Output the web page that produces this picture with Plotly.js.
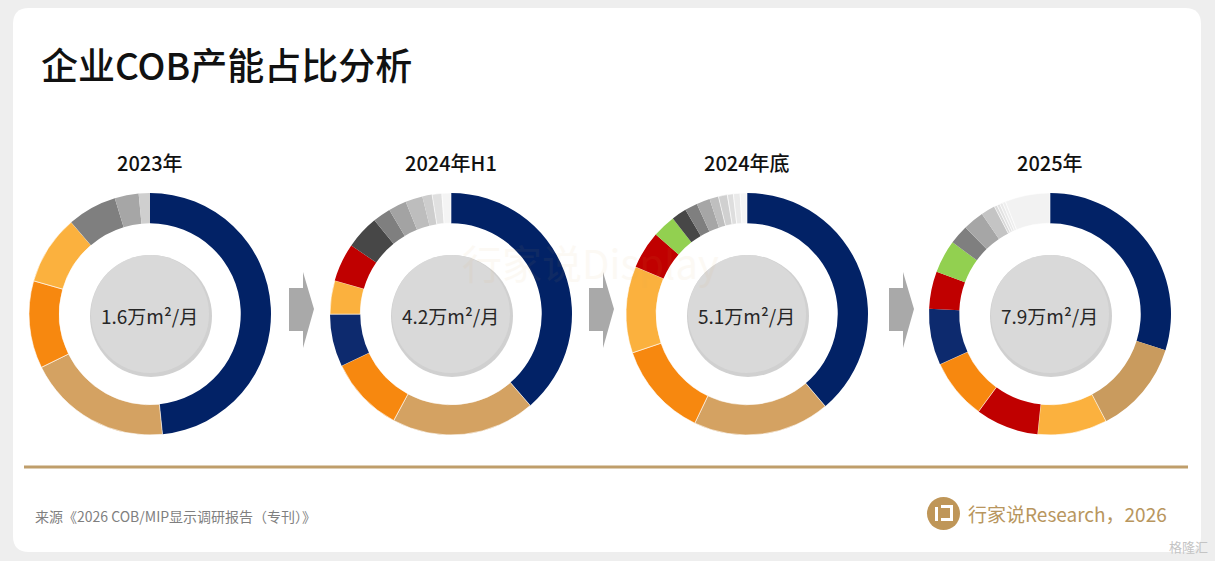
<!DOCTYPE html>
<html>
<head>
<meta charset="utf-8">
<script src="https://cdn.plot.ly/plotly-3.0.1.min.js"></script>
<style>
html,body{margin:0;padding:0;background:#eeeeee;}
#chart{width:1215px;height:561px;}
</style>
</head>
<body>
<div id="chart"></div>
<script>
// ---- data (shares in %, read clockwise from 12 o'clock) ----
const periods = ["2023年", "2024年H1", "2024年底", "2025年"];
const totals = ["1.6万m²/月", "4.2万m²/月", "5.1万m²/月", "7.9万m²/月"];

const labels2023 = ["企业1", "企业2", "企业3", "企业4", "企业5", "企业6", "其他"];
const values2023 = [48.4, 19.4, 11.7, 9.3, 6.6, 3.2, 1.5];

const labels2024H1 = ["企业1", "企业2", "企业3", "企业4", "企业5", "企业6", "企业7", "企业8", "企业9", "企业10", "企业11", "企业12", "其他"];
const values2024H1 = [38.6, 19.2, 10.1, 7.0, 4.5, 5.1, 4.5, 2.4, 2.4, 2.3, 1.3, 1.3, 1.2];

const labels2024End = ["企业1", "企业2", "企业3", "企业4", "企业5", "企业6", "企业7", "企业8", "企业9", "企业10", "企业11", "企业12", "企业13", "其他"];
const values2024End = [38.8, 18.3, 12.7, 11.6, 5.0, 3.1, 2.0, 1.7, 1.8, 1.2, 1.2, 0.8, 0.9, 0.9];

const labels2025 = ["企业1", "企业2", "企业3", "企业4", "企业5", "企业6", "企业7", "企业8", "企业9", "企业10", "企业11", "企业12", "企业13", "企业14", "企业15", "其他"];
const values2025 = [29.8, 12.5, 9.3, 8.4, 8.1, 7.5, 5.0, 4.4, 2.6, 2.8, 1.9, 0.4, 0.4, 0.4, 0.4, 6.0];

// ---- styles ----
const NAVY = "#022266", TAN = "#d4a262", TAN2 = "#c99b5e", ORANGE = "#f7880f", LORANGE = "#fbb13e",
      RED = "#c00000", GREEN = "#92d050";
const colors2023 = [NAVY, TAN, ORANGE, LORANGE, "#7f7f7f", "#a6a6a6", "#cfcfcf"];
const colors2024H1 = [NAVY, TAN, ORANGE, "#0d2a6e", LORANGE, RED, "#474747", "#7f7f7f", "#a3a3a3", "#bdbdbd", "#cdcdcd", "#e0e0e0", "#f4f4f4"];
const colors2024End = [NAVY, TAN, ORANGE, LORANGE, RED, GREEN, "#474747", "#7f7f7f", "#a6a6a6", "#bfbfbf", "#d0d0d0", "#dedede", "#eaeaea", "#f5f5f5"];
const colors2025 = [NAVY, TAN2, LORANGE, RED, ORANGE, "#0d2a6e", RED, GREEN, "#7f7f7f", "#a6a6a6", "#c4c4c4", "#d9d9d9", "#e2e2e2", "#e9e9e9", "#eeeeee", "#f2f2f2"];

const W = 1215, H = 561;
const fx = x => x / W;
const fy = y => 1 - y / H;

const centersX = [150, 451, 747, 1050];
const CY = 314, R = 121, RC = 59;

const series = [
  {labels: labels2023, values: values2023, colors: colors2023},
  {labels: labels2024H1, values: values2024H1, colors: colors2024H1},
  {labels: labels2024End, values: values2024End, colors: colors2024End},
  {labels: labels2025, values: values2025, colors: colors2025}
];

const FONT = "'Noto Sans CJK SC', 'Noto Sans', sans-serif";

const traces = series.map((s, i) => ({
  type: "pie",
  labels: s.labels,
  values: s.values,
  sort: false,
  direction: "clockwise",
  rotation: 0,
  hole: 0.75,
  textinfo: "none",
  hovertemplate: periods[i] + "<br>%{label}: %{value}%<extra></extra>",
  marker: {colors: s.colors, line: {color: "#ffffff", width: s.colors.map(c => (c > "#d" ? 0.6 : 0))}},
  domain: {
    x: [fx(centersX[i] - R), fx(centersX[i] + R)],
    y: [fy(CY + R), fy(CY - R)]
  },
  showlegend: false
}));

const shapes = [];
// card background
(function () {
  const x0 = 13, y0 = 8, x1 = 1201, y1 = 552, r = 16;
  const p = (x, y) => fx(x) + "," + fy(y);
  shapes.push({
    type: "path", xref: "paper", yref: "paper", layer: "below",
    path: "M" + p(x0 + r, y0) + " L" + p(x1 - r, y0) + " Q" + p(x1, y0) + " " + p(x1, y0 + r) +
          " L" + p(x1, y1 - r) + " Q" + p(x1, y1) + " " + p(x1 - r, y1) +
          " L" + p(x0 + r, y1) + " Q" + p(x0, y1) + " " + p(x0, y1 - r) +
          " L" + p(x0, y0 + r) + " Q" + p(x0, y0) + " " + p(x0 + r, y0) + " Z",
    fillcolor: "#ffffff", line: {width: 0}
  });
})();
// center circles with soft shadow
centersX.forEach(cx => {
  shapes.push({type: "circle", xref: "paper", yref: "paper", layer: "above",
    x0: fx(cx - RC - 1), x1: fx(cx + RC + 3), y0: fy(CY + RC + 4), y1: fy(CY - RC),
    fillcolor: "rgba(120,120,120,0.35)", line: {width: 0}});
  shapes.push({type: "circle", xref: "paper", yref: "paper", layer: "above",
    x0: fx(cx - RC), x1: fx(cx + RC), y0: fy(CY + RC), y1: fy(CY - RC),
    fillcolor: "#d9d9d9", line: {width: 0}});
});
// arrows between donuts
[289, 589, 889].forEach(ax => {
  const p = (x, y) => fx(x) + "," + fy(y);
  shapes.push({
    type: "path", xref: "paper", yref: "paper", layer: "above",
    path: "M" + p(ax, 288) + " L" + p(ax + 14, 288) + " L" + p(ax + 14, 272) + " L" + p(ax + 25, 309) +
          " L" + p(ax + 14, 348) + " L" + p(ax + 14, 331) + " L" + p(ax, 331) + " Z",
    fillcolor: "#a9a9a9", line: {width: 0}
  });
});
// gold separator line
shapes.push({type: "line", xref: "paper", yref: "paper", layer: "above",
  x0: fx(24), x1: fx(1188), y0: fy(467), y1: fy(467), line: {color: "#bf9e6b", width: 3}});
// logo circle
shapes.push({type: "circle", xref: "paper", yref: "paper", layer: "above",
  x0: fx(927), x1: fx(960), y0: fy(530), y1: fy(497), fillcolor: "#bf9658", line: {width: 0}});
(function () {
  const p = (x, y) => fx(x) + "," + fy(y);
  shapes.push({type: "path", xref: "paper", yref: "paper", layer: "above",
    path: "M" + p(935, 507) + " L" + p(938, 507) + " L" + p(938, 521) + " L" + p(935, 521) + " Z",
    fillcolor: "#ffffff", line: {width: 0}});
  shapes.push({type: "path", xref: "paper", yref: "paper", layer: "above",
    path: "M" + p(941, 505) + " L" + p(953, 505) + " L" + p(953, 521) + " L" + p(941, 521) +
          " L" + p(941, 518) + " L" + p(950, 518) + " L" + p(950, 508) + " L" + p(941, 508) + " Z",
    fillcolor: "#ffffff", line: {width: 0}});
})();

const annotations = [];
annotations.push({text: "企业COB产能占比分析", x: fx(39), y: fy(64), xref: "paper", yref: "paper",
  xanchor: "left", yanchor: "middle", showarrow: false,
  font: {family: FONT, size: 37, color: "#111111", weight: 500}});
periods.forEach((t, i) => annotations.push({text: t, x: fx(centersX[i]), y: fy(162), xref: "paper", yref: "paper",
  xanchor: "center", yanchor: "middle", showarrow: false,
  font: {family: FONT, size: 20, color: "#111111", weight: 500}}));
totals.forEach((t, i) => annotations.push({text: t, x: fx(centersX[i] - 1), y: fy(315), xref: "paper", yref: "paper",
  xanchor: "center", yanchor: "middle", showarrow: false,
  font: {family: FONT, size: 19, color: "#262626"}}));
// faint watermark (kept above the centre labels)
annotations.push({text: "行家说Display", x: fx(590), y: fy(262), xref: "paper", yref: "paper",
  xanchor: "center", yanchor: "middle", showarrow: false, opacity: 0.06,
  font: {family: FONT, size: 40, color: "#d9a64f"}});
annotations.push({text: "来源《2026 COB/MIP显示调研报告（专刊）》", x: fx(33), y: fy(516), xref: "paper", yref: "paper",
  xanchor: "left", yanchor: "middle", showarrow: false,
  font: {family: FONT, size: 14, color: "#7f7f7f"}});
annotations.push({text: "行家说Research，2026", x: fx(966), y: fy(513), xref: "paper", yref: "paper",
  xanchor: "left", yanchor: "middle", showarrow: false,
  font: {family: FONT, size: 19, color: "#b8965e"}});
annotations.push({text: "格隆汇", x: fx(1210), y: fy(546), xref: "paper", yref: "paper",
  xanchor: "right", yanchor: "middle", showarrow: false,
  font: {family: FONT, size: 13, color: "#c4c4c4"}});

const layout = {
  width: W, height: H,
  margin: {l: 0, r: 0, t: 0, b: 0},
  paper_bgcolor: "#eeeeee",
  plot_bgcolor: "rgba(0,0,0,0)",
  shapes: shapes,
  annotations: annotations,
  showlegend: false,
  font: {family: FONT}
};

Plotly.newPlot("chart", traces, layout, {displayModeBar: false, staticPlot: false});
</script>
</body>
</html>
